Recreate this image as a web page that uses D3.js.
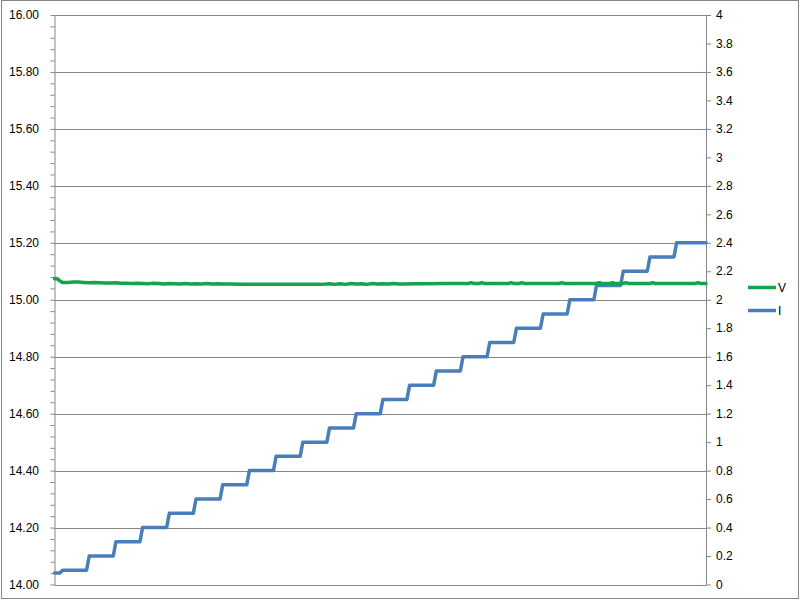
<!DOCTYPE html>
<html><head><meta charset="utf-8">
<script src="https://cdn.jsdelivr.net/npm/d3@7"></script>
<style>body{margin:0;background:#fff}svg{display:block}text{font-family:"Liberation Sans",Arial,sans-serif;font-size:12px;fill:#000}</style>
</head><body><svg id="c" width="800" height="601"></svg>
<script>
// Data (t = sample index, left axis V, right axis I)
const vTime = [0,1,2,3,5,7,9,11,13,15,17,19,21,23,25,27,29,31,33,35,37,39,41,43,45,47,49,51,53,55,57,59,61,63,65,70,80,90,100,103,105,107,109,111,113,115,117,119,121,123,125,127,129,131,135,140,145,150,155,156,157,159,160,161,165,170,171,172,174,175,176,180,189,190,191,195,203,204,205,208,209,210,213,214,215,220,223,224,225,230,235,240,241,242,244];
const vValues = [15.074,15.074,15.066,15.061,15.061,15.062,15.062,15.061,15.060,15.061,15.060,15.059,15.059,15.060,15.058,15.058,15.057,15.058,15.057,15.056,15.058,15.057,15.055,15.057,15.056,15.055,15.057,15.055,15.056,15.055,15.057,15.055,15.056,15.055,15.055,15.054,15.054,15.054,15.054,15.056,15.054,15.056,15.054,15.057,15.055,15.056,15.054,15.057,15.055,15.056,15.055,15.057,15.055,15.055,15.056,15.056,15.057,15.057,15.057,15.060,15.057,15.057,15.060,15.057,15.057,15.057,15.060,15.057,15.057,15.060,15.057,15.057,15.057,15.060,15.057,15.057,15.057,15.060,15.057,15.057,15.060,15.057,15.057,15.060,15.057,15.057,15.057,15.060,15.057,15.057,15.057,15.057,15.060,15.057,15.057];
const iTime = [0,2,3,12,13,22,23,32,33,42,43,52,53,62,63,72,73,82,83,92,93,102,103,112,113,122,123,132,133,142,143,152,153,162,163,172,173,182,183,192,193,202,203,212,213,222,223,232,233,244];
const iValues = [0.08,0.08,0.1,0.1,0.2,0.2,0.3,0.3,0.4,0.4,0.5,0.5,0.6,0.6,0.7,0.7,0.8,0.8,0.9,0.9,1.0,1.0,1.1,1.1,1.2,1.2,1.3,1.3,1.4,1.4,1.5,1.5,1.6,1.6,1.7,1.7,1.8,1.8,1.9,1.9,2.0,2.0,2.1,2.1,2.2,2.2,2.3,2.3,2.4,2.4];
const leftTicks = ["14.00","14.20","14.40","14.60","14.80","15.00","15.20","15.40","15.60","15.80","16.00"];
const rightTicks = ["0","0.2","0.4","0.6","0.8","1","1.2","1.4","1.6","1.8","2","2.2","2.4","2.6","2.8","3","3.2","3.4","3.6","3.8","4"];
const seriesNames = ["V","I"];
const colors = ["#12A54E","#4A7EBB"];

const svg = d3.select("#c");
const L = 54.5, R = 706, T = 15, B = 584.5;
const x = d3.scaleLinear().domain([0,244]).range([L,R]);
const yL = d3.scaleLinear().domain([14,16]).range([B,T]);
const yR = d3.scaleLinear().domain([0,4]).range([B,T]);
const grey = "#868686";

// outer border
svg.append("rect").attr("x",1.5).attr("y",0.5).attr("width",797).attr("height",598).attr("fill","none").attr("stroke",grey);

// gridlines
leftTicks.forEach(t => {
  const y = Math.round(yL(+t)) + 0.5;
  svg.append("line").attr("x1",L).attr("x2",R).attr("y1",y).attr("y2",y).attr("stroke",grey);
});

// left axis
const gL = svg.append("g").attr("transform",`translate(${L},0)`);
gL.call(d3.axisLeft(yL).tickValues(d3.range(14,16.0001,0.04)).tickSize(4).tickSizeOuter(0).tickFormat(""));
gL.selectAll("path").attr("stroke",grey);
gL.selectAll("line").attr("stroke",grey);
leftTicks.forEach(t => {
  svg.append("text").attr("x",39).attr("y",yL(+t)).attr("dy","0.35em").attr("text-anchor","end").text(t);
});

// right axis
const gR = svg.append("g").attr("transform",`translate(${R},0)`);
gR.call(d3.axisRight(yR).tickValues(rightTicks.map(Number)).tickSize(5).tickSizeOuter(0).tickFormat(""));
gR.selectAll("path").attr("stroke",grey);
gR.selectAll("line").attr("stroke",grey);
rightTicks.forEach(t => {
  svg.append("text").attr("x",716).attr("y",yR(+t)).attr("dy","0.35em").text(t);
});

// series
const lineV = d3.line().x((d,i)=>x(vTime[i])).y(d=>yL(d));
const lineI = d3.line().x((d,i)=>x(iTime[i])).y(d=>yR(d));
svg.append("path").attr("d",lineI(iValues)).attr("fill","none").attr("stroke",colors[1]).attr("stroke-width",3.5).attr("stroke-linejoin","round").attr("stroke-linecap","round");
svg.append("path").attr("d",lineV(vValues)).attr("fill","none").attr("stroke",colors[0]).attr("stroke-width",3.5).attr("stroke-linejoin","round").attr("stroke-linecap","round");

// legend
seriesNames.forEach((n,i) => {
  const y = 287.5 + i*23;
  svg.append("line").attr("x1",748).attr("x2",776).attr("y1",y).attr("y2",y).attr("stroke",colors[i]).attr("stroke-width",3.5);
  svg.append("text").attr("x",778).attr("y",y).attr("dy","0.35em").text(n);
});
</script></body></html>
